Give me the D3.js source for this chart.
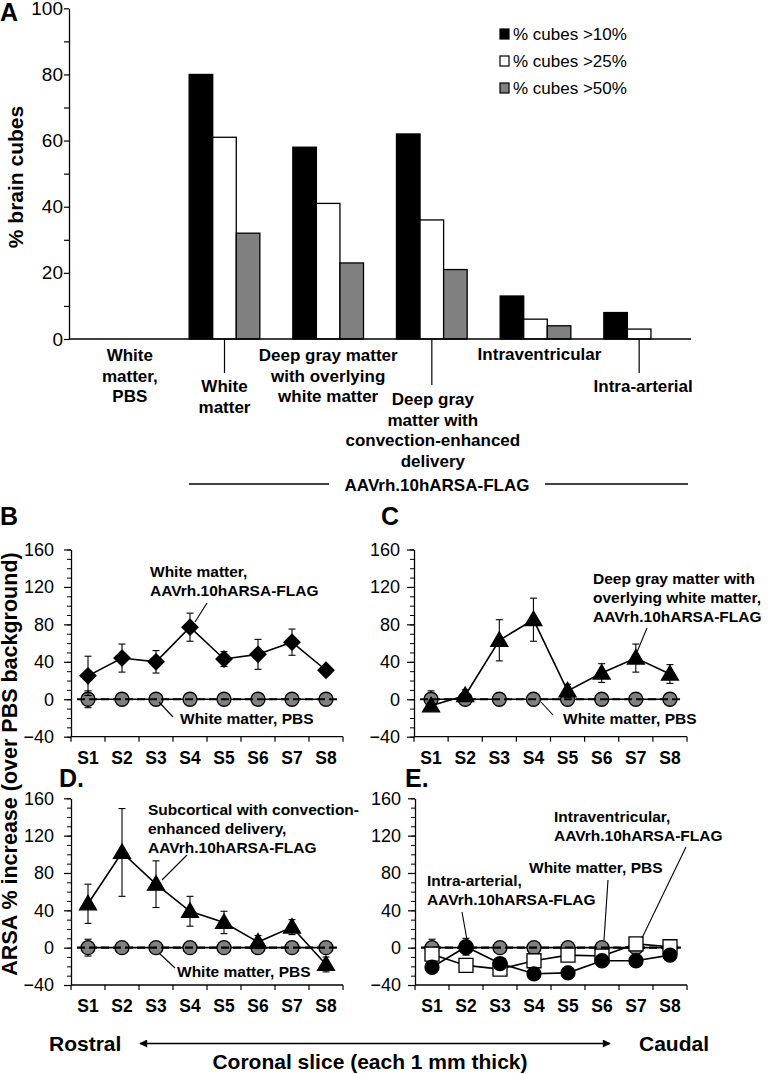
<!DOCTYPE html>
<html><head><meta charset="utf-8">
<script src="https://cdn.jsdelivr.net/npm/d3@7"></script>
<style>
body{margin:0;background:#fff}
svg{display:block}
text{font-family:"Liberation Sans",Arial,sans-serif;fill:#000}
</style>
</head><body>
<svg id="c" width="771" height="1074"></svg>
<script>
// ---------- Panel A data ----------
const categories = ["White matter, PBS","White matter","Deep gray matter with overlying white matter","Deep gray matter with convection-enhanced delivery","Intraventricular","Intra-arterial"];
const categoryLabelLines = [["White","matter,","PBS"],["White","matter"],["Deep gray matter","with overlying","white matter"],["Deep gray","matter with","convection-enhanced","delivery"],["Intraventricular"],["Intra-arterial"]];
const seriesNames = ["% cubes >10%","% cubes >25%","% cubes >50%"];
const cubesGt10 = [0,80,58,62,13,8];
const cubesGt25 = [0,61,41,36,6,3];
const cubesGt50 = [0,32,23,21,4,0];
const yTicksA = [0,20,40,60,80,100];
const vectorLabel = "AAVrh.10hARSA-FLAG";

// ---------- Panels B-E data ----------
const slices = ["S1","S2","S3","S4","S5","S6","S7","S8"];
const yTicksLine = [-40,0,40,80,120,160];
const pbsValues = [0,0,0,0,0,0,0,0];
const pbsErr = [9,2,2,2,2,2,2,2];
const wmValues = [25,44,40,77,43,48,61,31];
const wmErr = [21,15,12,15,8,16,14,2];
const dgValues = [-7,4,63,85,9,28,44,27];
const dgErr = [3,6,22,23,7,10,15,10];
const cedValues = [47,102,68,39,27,6,22,-18];
const cedErr = [21,47,25,16,12,7,8,8];
const ivValues = [-7,-19,-23,-14,-8,-9,4,1];
const ivErr = [3,2,2,2,2,2,2,2];
const iaValues = [-21,1,-17,-28,-27,-14,-14,-8];
const iaErr = [6,9,3,2,2,2,2,2];

const svg = d3.select("#c");
const BOLD = 700;

// =============== PANEL A =================
(function(){
  const g = svg.append("g");
  const x0 = d3.scaleBand().domain(categories).range([69,691]).padding(0);
  const x1 = d3.scaleBand().domain(seriesNames).range([0,x0.bandwidth()]).paddingInner(0).paddingOuter(0.7);
  const y = d3.scaleLinear().domain([0,100]).range([339,8.3]);
  const fills = ["#000","#fff","#808080"];
  const vals = [cubesGt10,cubesGt25,cubesGt50];

  categories.forEach((c,i)=>{
    seriesNames.forEach((s,j)=>{
      const v = vals[j][i];
      if(v<=0) return;
      g.append("rect").attr("x",x0(c)+x1(s)).attr("y",y(v))
        .attr("width",x1.bandwidth()).attr("height",y(0)-y(v))
        .attr("fill",fills[j]).attr("stroke","#000").attr("stroke-width",1.3);
    });
  });

  // y axis
  const ax = d3.axisLeft(y).tickValues(d3.range(0,101,10)).tickSize(5).tickPadding(1)
    .tickFormat(d=> yTicksA.includes(d)? d : "").tickSizeOuter(0);
  const ag = g.append("g").attr("transform","translate(69,0)").call(ax);
  ag.select(".domain").attr("stroke","#000").attr("stroke-width",1.3);
  ag.selectAll(".tick line").attr("stroke","#000").attr("stroke-width",1.2);
  ag.selectAll(".tick text").style("font-size","19px").attr("fill","#000");
  // baseline
  g.append("line").attr("x1",69).attr("x2",691).attr("y1",y(0)).attr("y2",y(0)).attr("stroke","#000").attr("stroke-width",1.5);

  // y title
  g.append("text").attr("transform","translate(23,177) rotate(-90)").attr("text-anchor","middle")
    .style("font-size","21px").style("font-weight",BOLD).text("% brain cubes");
  g.append("text").attr("x",0).attr("y",21).style("font-size","25px").style("font-weight",BOLD).text("A");

  // legend
  seriesNames.forEach((s,j)=>{
    const ly = 29 + j*27;
    g.append("rect").attr("x",500).attr("y",ly).attr("width",9).attr("height",10)
      .attr("fill",fills[j]).attr("stroke","#000").attr("stroke-width",1.2);
    g.append("text").attr("x",513).attr("y",ly+11).style("font-size","17px").text(s);
  });

  // category labels
  const firstBase = [361,392,361,405,360,392];
  const xOff = [9,0,0,1,4,4];
  const leaderEnd = [null,373,null,385,null,373];
  categories.forEach((c,i)=>{
    const cx = x0(c)+x0.bandwidth()/2;
    if(leaderEnd[i]) g.append("line").attr("x1",cx).attr("x2",cx).attr("y1",y(0)).attr("y2",leaderEnd[i]).attr("stroke","#000").attr("stroke-width",1.2);
    const t = g.append("text").attr("text-anchor","middle").style("font-size","17px").style("font-weight",BOLD);
    categoryLabelLines[i].forEach((ln,k)=>{
      t.append("tspan").attr("x",cx+xOff[i]).attr("y",firstBase[i]+k*20.7).text(ln);
    });
  });
  // vector bracket
  g.append("line").attr("x1",189).attr("x2",329).attr("y1",484).attr("y2",484).attr("stroke","#000").attr("stroke-width",1.3);
  g.append("line").attr("x1",545).attr("x2",688).attr("y1",484).attr("y2",484).attr("stroke","#000").attr("stroke-width",1.3);
  g.append("text").attr("x",437).attr("y",491).attr("text-anchor","middle").style("font-size","17px").style("font-weight",BOLD).text(vectorLabel);
})();

// =============== LINE PANELS =================
const markerPaths = {
  diamond: "M0,-8L8,0L0,8L-8,0Z",
  triangle: "M0,-8.5L8.5,6L-8.5,6Z",
  square: "M-7,-7H7V7H-7Z"
};

function linePanel(cfg){
  const g = svg.append("g");
  const x = d3.scaleBand().domain(slices).range([cfg.ax, cfg.axEnd]).padding(0);
  const y = d3.scaleLinear().domain([-40,160]).range([cfg.yBot, cfg.yTop]);
  const cx = d => x(d)+x.bandwidth()/2;

  // y axis minor + major ticks
  const minor = d3.axisLeft(y).tickValues(d3.range(-40,161,10)).tickSize(4).tickFormat("").tickSizeOuter(0);
  const mg = g.append("g").attr("transform",`translate(${cfg.ax},0)`).call(minor);
  mg.select(".domain").attr("stroke","#000").attr("stroke-width",1.3);
  mg.selectAll(".tick line").attr("stroke","#000").attr("stroke-width",1);
  const major = d3.axisLeft(y).tickValues(yTicksLine).tickSize(7).tickPadding(cfg.pad).tickSizeOuter(0);
  const jg = g.append("g").attr("transform",`translate(${cfg.ax},0)`).call(major);
  jg.select(".domain").remove();
  jg.selectAll(".tick line").attr("stroke","#000").attr("stroke-width",1.2);
  jg.selectAll(".tick text").style("font-size","18px").attr("fill","#000");

  // x axis at -40
  const yb = y(-40);
  g.append("line").attr("x1",cfg.ax).attr("x2",cfg.axEnd).attr("y1",yb).attr("y2",yb).attr("stroke","#000").attr("stroke-width",1.3);
  const edges = slices.map(s=>x(s)).concat([x.range()[1]]);
  g.selectAll(null).data(edges).enter().append("line")
    .attr("x1",d=>d).attr("x2",d=>d).attr("y1",yb).attr("y2",yb+5).attr("stroke","#000").attr("stroke-width",1.2);
  g.selectAll(null).data(slices).enter().append("text")
    .attr("x",cx).attr("y",yb+27).attr("text-anchor","middle")
    .style("font-size","17.5px").style("font-weight",BOLD).text(d=>d);

  // series
  function drawSeries(s){
    const pts = slices.map((d,i)=>({d, v:s.values[i], e:s.err[i]}));
    g.append("path").datum(pts)
      .attr("d", d3.line().x(p=>cx(p.d)).y(p=>y(p.v)))
      .attr("fill","none").attr("stroke","#000").attr("stroke-width",1.6);
    const eb = g.selectAll(null).data(pts).enter().append("g");
    eb.append("line").attr("x1",p=>cx(p.d)).attr("x2",p=>cx(p.d)).attr("y1",p=>y(p.v+p.e)).attr("y2",p=>y(p.v-p.e)).attr("stroke","#000").attr("stroke-width",1.1);
    eb.append("line").attr("x1",p=>cx(p.d)-3.5).attr("x2",p=>cx(p.d)+3.5).attr("y1",p=>y(p.v+p.e)).attr("y2",p=>y(p.v+p.e)).attr("stroke","#000").attr("stroke-width",1.1);
    eb.append("line").attr("x1",p=>cx(p.d)-3.5).attr("x2",p=>cx(p.d)+3.5).attr("y1",p=>y(p.v-p.e)).attr("y2",p=>y(p.v-p.e)).attr("stroke","#000").attr("stroke-width",1.1);
    if(s.marker==="circle"){
      g.selectAll(null).data(pts).enter().append("circle")
        .attr("cx",p=>cx(p.d)).attr("cy",p=>y(p.v)).attr("r",7)
        .attr("fill",s.fill).attr("stroke","#000").attr("stroke-width",1.3);
    } else {
      g.selectAll(null).data(pts).enter().append("path")
        .attr("transform",p=>`translate(${cx(p.d)},${y(p.v)})`).attr("d",markerPaths[s.marker])
        .attr("fill",s.fill).attr("stroke","#000").attr("stroke-width",1.3);
    }
  }
  drawSeries({values:pbsValues, err:pbsErr, marker:"circle", fill:"#808080"});
  // dashed zero reference
  g.append("line").attr("x1",cx("S1")-11).attr("x2",cx("S8")+14).attr("y1",y(0)).attr("y2",y(0))
    .attr("stroke","#000").attr("stroke-width",2.2).attr("stroke-dasharray","8,4");
  cfg.series.forEach(drawSeries);

  // annotations
  cfg.notes.forEach(n=>{
    const t = g.append("text").style("font-size","15.5px").style("font-weight",BOLD);
    n.lines.forEach((ln,k)=> t.append("tspan").attr("x",n.x).attr("y",n.y+k*n.lh).text(ln));
    if(n.leader) g.append("line").attr("x1",n.leader[0]).attr("y1",n.leader[1]).attr("x2",n.leader[2]).attr("y2",n.leader[3]).attr("stroke","#000").attr("stroke-width",1.1);
  });
  g.append("text").attr("x",cfg.lab[0]).attr("y",cfg.lab[1]).style("font-size","25px").style("font-weight",BOLD).text(cfg.lab[2]);
}

linePanel({ax:71, axEnd:343, yTop:549.5, yBot:736.7, pad:10, lab:[0,525,"B"],
  series:[{values:wmValues, err:wmErr, marker:"diamond", fill:"#000"}],
  notes:[
    {x:150,y:577,lh:18.5,lines:["White matter,",vectorLabel],leader:[207,603,195,622]},
    {x:180,y:724,lh:18,lines:["White matter, PBS"],leader:[159,702,173,717]}
  ]});
linePanel({ax:414, axEnd:687, yTop:549.5, yBot:736.7, pad:7, lab:[381,525,"C"],
  series:[{values:dgValues, err:dgErr, marker:"triangle", fill:"#000"}],
  notes:[
    {x:593,y:584,lh:19,lines:["Deep gray matter with","overlying white matter,",vectorLabel],leader:[647,628,637,652]},
    {x:563,y:724,lh:18,lines:["White matter, PBS"],leader:[541,702,553,715]}
  ]});
linePanel({ax:71, axEnd:343, yTop:798.3, yBot:985, pad:10, lab:[59,787,"D."],
  series:[{values:cedValues, err:cedErr, marker:"triangle", fill:"#000"}],
  notes:[
    {x:148,y:815,lh:19,lines:["Subcortical with convection-","enhanced delivery,",vectorLabel],leader:[187,855,162,880]},
    {x:177,y:977,lh:18,lines:["White matter, PBS"],leader:[159,953,175,968]}
  ]});
linePanel({ax:415, axEnd:687, yTop:798.3, yBot:985, pad:7, lab:[405,787,"E."],
  series:[{values:ivValues, err:ivErr, marker:"square", fill:"#fff"},
          {values:iaValues, err:iaErr, marker:"circle", fill:"#000"}],
  notes:[
    {x:554,y:822,lh:19,lines:["Intraventricular,",vectorLabel],leader:[686,847,642,938]},
    {x:529,y:873,lh:18,lines:["White matter, PBS"],leader:[608,880,604,940]},
    {x:427,y:886,lh:19,lines:["Intra-arterial,",vectorLabel],leader:[462,912,467,940]}
  ]});

// shared y title
svg.append("text").attr("transform","translate(17,764) rotate(-90)").attr("text-anchor","middle")
  .style("font-size","21.5px").style("font-weight",BOLD).text("ARSA % increase (over PBS background)");

// bottom arrow + labels
const defs = svg.append("defs");
defs.append("marker").attr("id","ah").attr("viewBox","0 0 10 10").attr("refX",9).attr("refY",5)
  .attr("markerWidth",10).attr("markerHeight",8).attr("markerUnits","userSpaceOnUse").attr("orient","auto-start-reverse")
  .append("path").attr("d","M0,0L10,5L0,10Z").attr("fill","#000");
svg.append("line").attr("x1",140).attr("x2",610).attr("y1",1043.5).attr("y2",1043.5)
  .attr("stroke","#000").attr("stroke-width",1.6).attr("marker-start","url(#ah)").attr("marker-end","url(#ah)");
svg.append("text").attr("x",49).attr("y",1050.5).style("font-size","21px").style("font-weight",BOLD).text("Rostral");
svg.append("text").attr("x",639).attr("y",1050.5).style("font-size","21px").style("font-weight",BOLD).text("Caudal");
svg.append("text").attr("x",370).attr("y",1068.5).attr("text-anchor","middle").style("font-size","21px").style("font-weight",BOLD).text("Coronal slice (each 1 mm thick)");
</script>
</body></html>
